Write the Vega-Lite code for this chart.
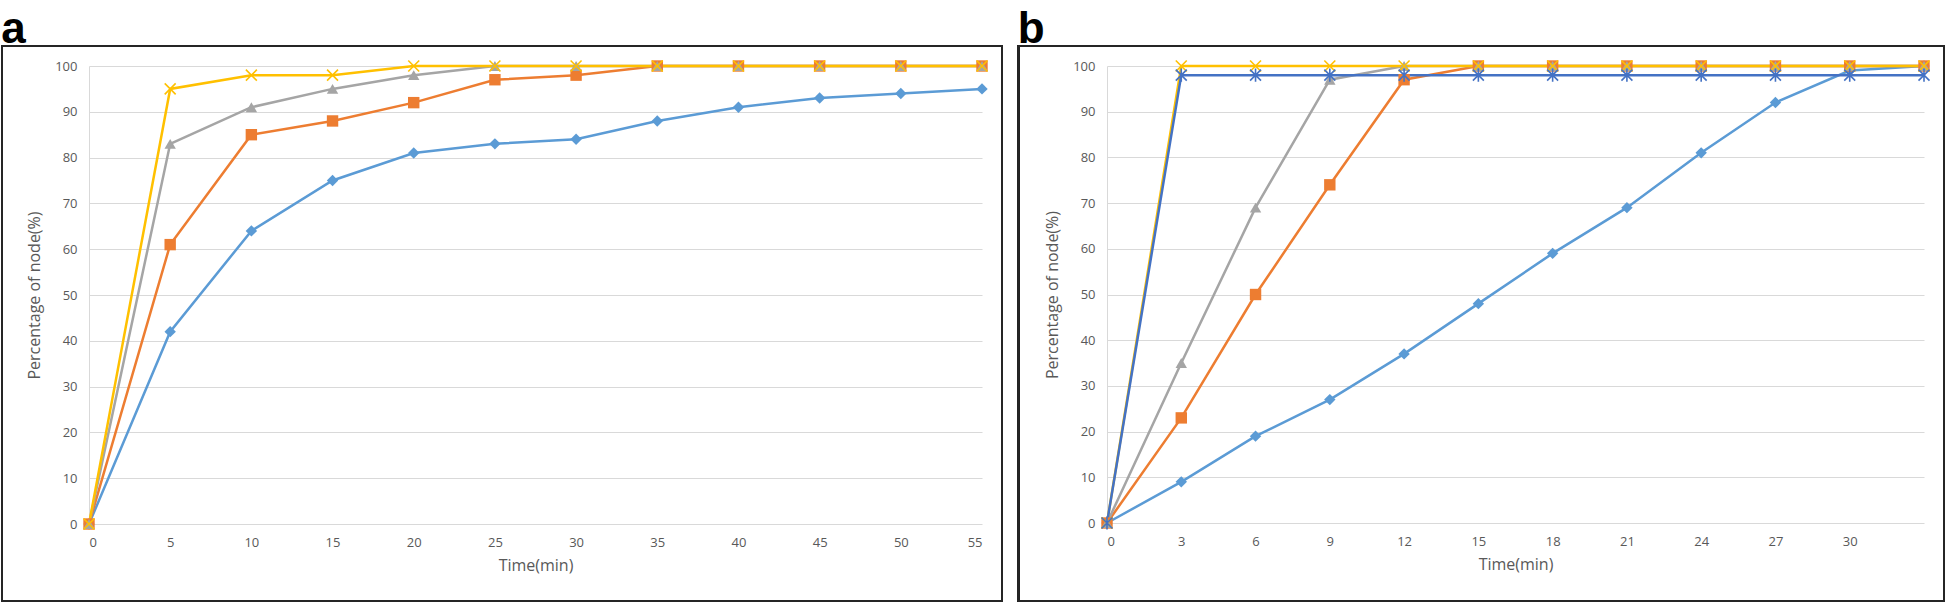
{
  "$schema": "https://vega.github.io/schema/vega-lite/v6.json",
  "padding": {"left": 1, "top": 8, "right": 2, "bottom": 2},
  "spacing": 14,
  "background": "white",
  "config": {
    "view": {"stroke": null},
    "font": "Open Sans",
    "axis": {
      "labelFont": "Open Sans", "labelFontSize": 13, "labelColor": "#595959",
      "titleFont": "Open Sans", "titleFontSize": 16, "titleFontWeight": "normal", "titleColor": "#595959",
      "ticks": false, "domainColor": "#d9d9d9", "gridColor": "#d9d9d9", "gridWidth": 1
    },
    "title": {"font": "Liberation Sans", "fontSize": 44, "fontWeight": "bold", "color": "#000000", "anchor": "start", "offset": -7}
  },
  "datasets": {
    "a": [
      {"series": "S1", "t": 0, "pct": 0}, {"series": "S1", "t": 5, "pct": 42}, {"series": "S1", "t": 10, "pct": 64}, {"series": "S1", "t": 15, "pct": 75}, {"series": "S1", "t": 20, "pct": 81}, {"series": "S1", "t": 25, "pct": 83}, {"series": "S1", "t": 30, "pct": 84}, {"series": "S1", "t": 35, "pct": 88}, {"series": "S1", "t": 40, "pct": 91}, {"series": "S1", "t": 45, "pct": 93}, {"series": "S1", "t": 50, "pct": 94}, {"series": "S1", "t": 55, "pct": 95},
      {"series": "S2", "t": 0, "pct": 0}, {"series": "S2", "t": 5, "pct": 61}, {"series": "S2", "t": 10, "pct": 85}, {"series": "S2", "t": 15, "pct": 88}, {"series": "S2", "t": 20, "pct": 92}, {"series": "S2", "t": 25, "pct": 97}, {"series": "S2", "t": 30, "pct": 98}, {"series": "S2", "t": 35, "pct": 100}, {"series": "S2", "t": 40, "pct": 100}, {"series": "S2", "t": 45, "pct": 100}, {"series": "S2", "t": 50, "pct": 100}, {"series": "S2", "t": 55, "pct": 100},
      {"series": "S3", "t": 0, "pct": 0}, {"series": "S3", "t": 5, "pct": 83}, {"series": "S3", "t": 10, "pct": 91}, {"series": "S3", "t": 15, "pct": 95}, {"series": "S3", "t": 20, "pct": 98}, {"series": "S3", "t": 25, "pct": 100}, {"series": "S3", "t": 30, "pct": 100}, {"series": "S3", "t": 35, "pct": 100}, {"series": "S3", "t": 40, "pct": 100}, {"series": "S3", "t": 45, "pct": 100}, {"series": "S3", "t": 50, "pct": 100}, {"series": "S3", "t": 55, "pct": 100},
      {"series": "S4", "t": 0, "pct": 0}, {"series": "S4", "t": 5, "pct": 95}, {"series": "S4", "t": 10, "pct": 98}, {"series": "S4", "t": 15, "pct": 98}, {"series": "S4", "t": 20, "pct": 100}, {"series": "S4", "t": 25, "pct": 100}, {"series": "S4", "t": 30, "pct": 100}, {"series": "S4", "t": 35, "pct": 100}, {"series": "S4", "t": 40, "pct": 100}, {"series": "S4", "t": 45, "pct": 100}, {"series": "S4", "t": 50, "pct": 100}, {"series": "S4", "t": 55, "pct": 100}
    ],
    "b": [
      {"series": "S1", "t": 0, "pct": 0}, {"series": "S1", "t": 3, "pct": 9}, {"series": "S1", "t": 6, "pct": 19}, {"series": "S1", "t": 9, "pct": 27}, {"series": "S1", "t": 12, "pct": 37}, {"series": "S1", "t": 15, "pct": 48}, {"series": "S1", "t": 18, "pct": 59}, {"series": "S1", "t": 21, "pct": 69}, {"series": "S1", "t": 24, "pct": 81}, {"series": "S1", "t": 27, "pct": 92}, {"series": "S1", "t": 30, "pct": 99}, {"series": "S1", "t": 33, "pct": 100},
      {"series": "S2", "t": 0, "pct": 0}, {"series": "S2", "t": 3, "pct": 23}, {"series": "S2", "t": 6, "pct": 50}, {"series": "S2", "t": 9, "pct": 74}, {"series": "S2", "t": 12, "pct": 97}, {"series": "S2", "t": 15, "pct": 100}, {"series": "S2", "t": 18, "pct": 100}, {"series": "S2", "t": 21, "pct": 100}, {"series": "S2", "t": 24, "pct": 100}, {"series": "S2", "t": 27, "pct": 100}, {"series": "S2", "t": 30, "pct": 100}, {"series": "S2", "t": 33, "pct": 100},
      {"series": "S3", "t": 0, "pct": 0}, {"series": "S3", "t": 3, "pct": 35}, {"series": "S3", "t": 6, "pct": 69}, {"series": "S3", "t": 9, "pct": 97}, {"series": "S3", "t": 12, "pct": 100}, {"series": "S3", "t": 15, "pct": 100}, {"series": "S3", "t": 18, "pct": 100}, {"series": "S3", "t": 21, "pct": 100}, {"series": "S3", "t": 24, "pct": 100}, {"series": "S3", "t": 27, "pct": 100}, {"series": "S3", "t": 30, "pct": 100}, {"series": "S3", "t": 33, "pct": 100},
      {"series": "S4", "t": 0, "pct": 0}, {"series": "S4", "t": 3, "pct": 100}, {"series": "S4", "t": 6, "pct": 100}, {"series": "S4", "t": 9, "pct": 100}, {"series": "S4", "t": 12, "pct": 100}, {"series": "S4", "t": 15, "pct": 100}, {"series": "S4", "t": 18, "pct": 100}, {"series": "S4", "t": 21, "pct": 100}, {"series": "S4", "t": 24, "pct": 100}, {"series": "S4", "t": 27, "pct": 100}, {"series": "S4", "t": 30, "pct": 100}, {"series": "S4", "t": 33, "pct": 100},
      {"series": "S5", "t": 0, "pct": 0}, {"series": "S5", "t": 3, "pct": 98}, {"series": "S5", "t": 6, "pct": 98}, {"series": "S5", "t": 9, "pct": 98}, {"series": "S5", "t": 12, "pct": 98}, {"series": "S5", "t": 15, "pct": 98}, {"series": "S5", "t": 18, "pct": 98}, {"series": "S5", "t": 21, "pct": 98}, {"series": "S5", "t": 24, "pct": 98}, {"series": "S5", "t": 27, "pct": 98}, {"series": "S5", "t": 30, "pct": 98}, {"series": "S5", "t": 33, "pct": 98}
    ]
  },
  "hconcat": [
    {
      "title": {"text": "a"},
      "width": 893,
      "height": 458,
      "data": {"name": "a"},
      "encoding": {
        "x": {"field": "t", "type": "quantitative", "scale": {"domain": [0, 55], "nice": false, "zero": false},
              "axis": {"title": "Time(min)", "values": [0,5,10,15,20,25,30,35,40,45,50,55], "grid": false, "labelPadding": 12, "titlePadding": 8, "domain": false}},
        "y": {"field": "pct", "type": "quantitative", "scale": {"domain": [0, 100], "nice": false},
              "axis": {"title": "Percentage of node(%)", "values": [0,10,20,30,40,50,60,70,80,90,100], "grid": true, "labelPadding": 12, "titlePadding": 12, "domain": true}}
      },
      "layer": [
        {
          "mark": {"type": "rect", "clip": false, "fill": null, "fillOpacity": 0, "stroke": "#262626", "strokeWidth": 1.5},
          "encoding": {
            "x": {"datum": -5.36, "type": "quantitative"},
            "x2": {"datum": 56.23},
            "y": {"datum": 104.37, "type": "quantitative"},
            "y2": {"datum": -16.81}
          }
        },
        {
          "mark": {"type": "line", "strokeWidth": 2.5},
          "encoding": {
            "color": {"field": "series", "type": "nominal", "legend": null,
                      "scale": {"domain": ["S1","S2","S3","S4","S5"], "range": ["#5B9BD5","#ED7D31","#A5A5A5","#FFC000","#4472C4"]}}
          }
        },
        {
          "transform": [{"filter": "datum.series === 'S1' || datum.series === 'S2' || datum.series === 'S3'"}],
          "mark": {"type": "point", "filled": true, "opacity": 1, "size": 130},
          "encoding": {
            "color": {"field": "series", "type": "nominal", "legend": null,
                      "scale": {"domain": ["S1","S2","S3","S4","S5"], "range": ["#5B9BD5","#ED7D31","#A5A5A5","#FFC000","#4472C4"]}},
            "shape": {"field": "series", "type": "nominal", "legend": null,
                      "scale": {"domain": ["S1","S2","S3","S4","S5"], "range": ["diamond","square","triangle-up","M-1,-1L1,1M-1,1L1,-1","M-1,-1L1,1M-1,1L1,-1M0,-1.2L0,1.2"]}}
          }
        },
        {
          "transform": [{"filter": "datum.series === 'S4' || datum.series === 'S5'"}],
          "mark": {"type": "point", "filled": false, "opacity": 1, "size": 120, "strokeWidth": 1.6},
          "encoding": {
            "color": {"field": "series", "type": "nominal", "legend": null,
                      "scale": {"domain": ["S1","S2","S3","S4","S5"], "range": ["#5B9BD5","#ED7D31","#A5A5A5","#FFC000","#4472C4"]}},
            "shape": {"field": "series", "type": "nominal", "legend": null,
                      "scale": {"domain": ["S1","S2","S3","S4","S5"], "range": ["diamond","square","triangle-up","M-1,-1L1,1M-1,1L1,-1","M-1,-1L1,1M-1,1L1,-1M0,-1.2L0,1.2"]}}
          }
        }
      ]
    },
    {
      "title": {"text": "b"},
      "width": 817,
      "height": 457,
      "data": {"name": "b"},
      "encoding": {
        "x": {"field": "t", "type": "quantitative", "scale": {"domain": [0, 33], "nice": false, "zero": false},
              "axis": {"title": "Time(min)", "values": [0,3,6,9,12,15,18,21,24,27,30], "grid": false, "labelPadding": 12, "titlePadding": 8, "domain": false}},
        "y": {"field": "pct", "type": "quantitative", "scale": {"domain": [0, 100], "nice": false},
              "axis": {"title": "Percentage of node(%)", "values": [0,10,20,30,40,50,60,70,80,90,100], "grid": true, "labelPadding": 12, "titlePadding": 12, "domain": true}}
      },
      "layer": [
        {
          "mark": {"type": "rect", "clip": false, "fill": null, "fillOpacity": 0, "stroke": "#262626", "strokeWidth": 1.5},
          "encoding": {
            "x": {"datum": -3.57, "type": "quantitative"},
            "x2": {"datum": 33.8},
            "y": {"datum": 104.38, "type": "quantitative"},
            "y2": {"datum": -17.07}
          }
        },
        {
          "mark": {"type": "line", "strokeWidth": 2.5},
          "encoding": {
            "color": {"field": "series", "type": "nominal", "legend": null,
                      "scale": {"domain": ["S1","S2","S3","S4","S5"], "range": ["#5B9BD5","#ED7D31","#A5A5A5","#FFC000","#4472C4"]}}
          }
        },
        {
          "transform": [{"filter": "datum.series === 'S1' || datum.series === 'S2' || datum.series === 'S3'"}],
          "mark": {"type": "point", "filled": true, "opacity": 1, "size": 130},
          "encoding": {
            "color": {"field": "series", "type": "nominal", "legend": null,
                      "scale": {"domain": ["S1","S2","S3","S4","S5"], "range": ["#5B9BD5","#ED7D31","#A5A5A5","#FFC000","#4472C4"]}},
            "shape": {"field": "series", "type": "nominal", "legend": null,
                      "scale": {"domain": ["S1","S2","S3","S4","S5"], "range": ["diamond","square","triangle-up","M-1,-1L1,1M-1,1L1,-1","M-1,-1L1,1M-1,1L1,-1M0,-1.2L0,1.2"]}}
          }
        },
        {
          "transform": [{"filter": "datum.series === 'S4' || datum.series === 'S5'"}],
          "mark": {"type": "point", "filled": false, "opacity": 1, "size": 120, "strokeWidth": 1.6},
          "encoding": {
            "color": {"field": "series", "type": "nominal", "legend": null,
                      "scale": {"domain": ["S1","S2","S3","S4","S5"], "range": ["#5B9BD5","#ED7D31","#A5A5A5","#FFC000","#4472C4"]}},
            "shape": {"field": "series", "type": "nominal", "legend": null,
                      "scale": {"domain": ["S1","S2","S3","S4","S5"], "range": ["diamond","square","triangle-up","M-1,-1L1,1M-1,1L1,-1","M-1,-1L1,1M-1,1L1,-1M0,-1.2L0,1.2"]}}
          }
        }
      ]
    }
  ]
}
